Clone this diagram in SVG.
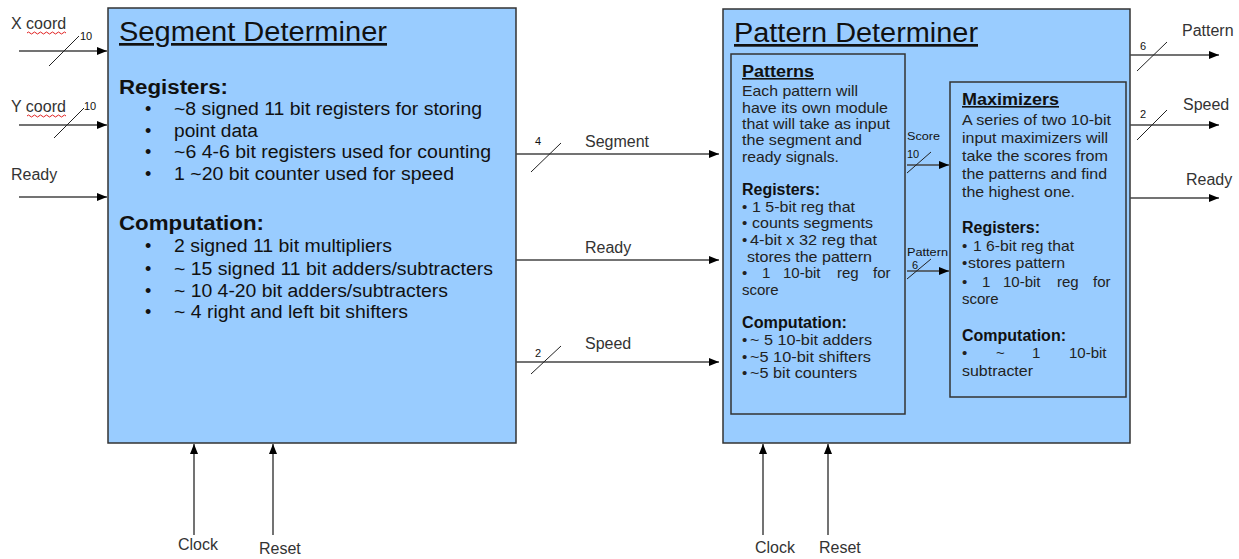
<svg xmlns="http://www.w3.org/2000/svg" width="1239" height="559" viewBox="0 0 1239 559">
<defs>
<marker id="ah" markerWidth="10" markerHeight="8" refX="10" refY="4" orient="auto" markerUnits="userSpaceOnUse">
<path d="M0,0 L10,4 L0,8 Z" fill="#000"/>
</marker>
<style>
.box{fill:#99CCFF;stroke:#333;stroke-width:1.5}
.t{font-family:"Liberation Sans",Arial,sans-serif;fill:#111}
.lbl{font-family:"Liberation Sans",Arial,sans-serif;fill:#333;font-size:16px}
.sm{font-family:"Liberation Sans",Arial,sans-serif;fill:#111;font-size:11px}
.title{font-size:27px;text-decoration:underline}
.h{font-size:20px;font-weight:bold}
.b{font-size:18px}
.ph{font-size:16px;font-weight:bold}
.p{font-size:15px;fill:#222}
.w{stroke:#444;stroke-width:1.5;fill:none}
.arr{stroke:#444;stroke-width:1.5;fill:none;marker-end:url(#ah)}
.sl{stroke:#222;stroke-width:1;fill:none}
.sp{stroke:#e02020;stroke-width:1;fill:none}
</style>
</defs>

<g id="segment-determiner">
<rect class="box" x="108" y="8" width="408" height="435"/>
<text class="t title" x="119" y="41" textLength="268" lengthAdjust="spacingAndGlyphs">Segment Determiner</text>
<text class="t h" x="119" y="94" textLength="109" lengthAdjust="spacingAndGlyphs">Registers:</text>
<g class="t b">
<text x="145" y="115">•</text><text x="174" y="115" textLength="308" lengthAdjust="spacingAndGlyphs">~8 signed 11 bit registers for storing</text>
<text x="145" y="137">•</text><text x="174" y="137" textLength="84" lengthAdjust="spacingAndGlyphs">point data</text>
<text x="145" y="158">•</text><text x="174" y="158" textLength="317" lengthAdjust="spacingAndGlyphs">~6 4-6 bit registers used for counting</text>
<text x="145" y="180">•</text><text x="174" y="180" textLength="280" lengthAdjust="spacingAndGlyphs">1 ~20 bit counter used for speed</text>
</g>
<text class="t h" x="119" y="230" textLength="145" lengthAdjust="spacingAndGlyphs">Computation:</text>
<g class="t b">
<text x="145" y="252">•</text><text x="174" y="252" textLength="218" lengthAdjust="spacingAndGlyphs">2 signed 11 bit multipliers</text>
<text x="145" y="275">•</text><text x="174" y="275" textLength="319" lengthAdjust="spacingAndGlyphs">~ 15 signed 11 bit adders/subtracters</text>
<text x="145" y="297">•</text><text x="174" y="297" textLength="274" lengthAdjust="spacingAndGlyphs">~ 10 4-20 bit adders/subtracters</text>
<text x="145" y="318">•</text><text x="174" y="318" textLength="234" lengthAdjust="spacingAndGlyphs">~ 4 right and left bit shifters</text>
</g>
</g>

<g id="pattern-determiner">
<rect class="box" x="723" y="9" width="407" height="434"/>
<text class="t title" x="734" y="42" textLength="244" lengthAdjust="spacingAndGlyphs">Pattern Determiner</text>
</g>

<g id="patterns">
<rect class="box" x="731" y="54" width="174" height="360"/>
<text class="t ph" x="742" y="77" text-decoration="underline" textLength="72" lengthAdjust="spacingAndGlyphs">Patterns</text>
<g class="t p">
<text x="742" y="96" textLength="116" lengthAdjust="spacingAndGlyphs">Each pattern will</text>
<text x="742" y="113" textLength="146" lengthAdjust="spacingAndGlyphs">have its own module</text>
<text x="742" y="129" textLength="148" lengthAdjust="spacingAndGlyphs">that will take as input</text>
<text x="742" y="145" textLength="120" lengthAdjust="spacingAndGlyphs">the segment and</text>
<text x="742" y="162" textLength="97" lengthAdjust="spacingAndGlyphs">ready signals.</text>
</g>
<text class="t ph" x="742" y="195" textLength="78" lengthAdjust="spacingAndGlyphs">Registers:</text>
<g class="t p">
<text x="742" y="212">•</text><text x="752" y="212" textLength="103" lengthAdjust="spacingAndGlyphs">1 5-bit reg that</text>
<text x="742" y="228">•</text><text x="752" y="228" textLength="121" lengthAdjust="spacingAndGlyphs">counts segments</text>
<text x="742" y="245">•</text><text x="750" y="245" textLength="127" lengthAdjust="spacingAndGlyphs">4-bit x 32 reg that</text>
<text x="747" y="262" textLength="125" lengthAdjust="spacingAndGlyphs">stores the pattern</text>
<text x="742" y="278">•</text><text x="762" y="278">1</text><text x="783" y="278">10-bit</text><text x="837" y="278">reg</text><text x="873" y="278">for</text>
<text x="742" y="295">score</text>
</g>
<text class="t ph" x="742" y="328" textLength="105" lengthAdjust="spacingAndGlyphs">Computation:</text>
<g class="t p">
<text x="742" y="345">•</text><text x="750" y="345" textLength="122" lengthAdjust="spacingAndGlyphs">~ 5 10-bit adders</text>
<text x="742" y="362">•</text><text x="750" y="362" textLength="121" lengthAdjust="spacingAndGlyphs">~5 10-bit shifters</text>
<text x="742" y="378">•</text><text x="750" y="378" textLength="107" lengthAdjust="spacingAndGlyphs">~5 bit counters</text>
</g>
</g>

<g id="maximizers">
<rect class="box" x="950" y="82" width="176" height="315"/>
<text class="t ph" x="962" y="105" text-decoration="underline" textLength="97" lengthAdjust="spacingAndGlyphs">Maximizers</text>
<g class="t p">
<text x="962" y="125" textLength="149" lengthAdjust="spacingAndGlyphs">A series of two 10-bit</text>
<text x="962" y="143" textLength="146" lengthAdjust="spacingAndGlyphs">input maximizers will</text>
<text x="962" y="161" textLength="146" lengthAdjust="spacingAndGlyphs">take the scores from</text>
<text x="962" y="179" textLength="145" lengthAdjust="spacingAndGlyphs">the patterns and find</text>
<text x="962" y="197" textLength="113" lengthAdjust="spacingAndGlyphs">the highest one.</text>
</g>
<text class="t ph" x="962" y="233" textLength="78" lengthAdjust="spacingAndGlyphs">Registers:</text>
<g class="t p">
<text x="962" y="251">•</text><text x="973" y="251" textLength="101" lengthAdjust="spacingAndGlyphs">1 6-bit reg that</text>
<text x="962" y="268">•</text><text x="968" y="268" textLength="97" lengthAdjust="spacingAndGlyphs">stores pattern</text>
<text x="962" y="287">•</text><text x="982" y="287">1</text><text x="1003" y="287">10-bit</text><text x="1057" y="287">reg</text><text x="1093" y="287">for</text>
<text x="962" y="304">score</text>
</g>
<text class="t ph" x="962" y="341" textLength="104" lengthAdjust="spacingAndGlyphs">Computation:</text>
<g class="t p">
<text x="962" y="358">•</text><text x="996" y="358">~</text><text x="1032" y="358">1</text><text x="1069" y="358">10-bit</text>
<text x="962" y="376" textLength="71" lengthAdjust="spacingAndGlyphs">subtracter</text>
</g>
</g>

<g id="connectors">
<!-- left inputs -->
<line class="arr" x1="19" y1="51" x2="107" y2="51"/>
<line class="sl" x1="49" y1="66" x2="79" y2="36"/>
<line class="arr" x1="19" y1="125" x2="107" y2="125"/>
<line class="sl" x1="54" y1="138" x2="84" y2="108"/>
<line class="arr" x1="19" y1="197" x2="107" y2="197"/>
<!-- middle -->
<line class="arr" x1="516" y1="154" x2="719" y2="154"/>
<line class="sl" x1="531" y1="172" x2="561" y2="143"/>
<line class="arr" x1="516" y1="260" x2="719" y2="260"/>
<line class="arr" x1="516" y1="362" x2="719" y2="362"/>
<line class="sl" x1="531" y1="374" x2="561" y2="346"/>
<!-- inner -->
<line class="arr" x1="907" y1="165" x2="949" y2="165"/>
<line class="sl" x1="907" y1="173" x2="931" y2="152"/>
<line class="arr" x1="907" y1="271" x2="949" y2="271"/>
<line class="sl" x1="907" y1="279" x2="931" y2="259"/>
<!-- right outputs -->
<line class="arr" x1="1130" y1="55" x2="1219" y2="55"/>
<line class="sl" x1="1137" y1="71" x2="1167" y2="42"/>
<line class="arr" x1="1130" y1="125" x2="1219" y2="125"/>
<line class="sl" x1="1137" y1="140" x2="1167" y2="110"/>
<line class="arr" x1="1130" y1="198" x2="1219" y2="198"/>
<!-- bottom -->
<line class="arr" x1="194" y1="535" x2="194" y2="444"/>
<line class="arr" x1="273" y1="535" x2="273" y2="444"/>
<line class="arr" x1="763" y1="535" x2="763" y2="444"/>
<line class="arr" x1="828" y1="535" x2="828" y2="444"/>
</g>

<g id="labels">
<text class="lbl" x="11" y="29">X coord</text>
<path class="sp" d="M27,33 q1.5,-2 3,0 t3,0 t3,0 t3,0 t3,0 t3,0 t3,0 t3,0 t3,0 t3,0 t3,0 t3,0 t3,0"/>
<text class="sm" x="80" y="40">10</text>
<text class="lbl" x="11" y="112">Y coord</text>
<path class="sp" d="M27,116 q1.5,-2 3,0 t3,0 t3,0 t3,0 t3,0 t3,0 t3,0 t3,0 t3,0 t3,0 t3,0 t3,0 t3,0"/>
<text class="sm" x="84" y="110">10</text>
<text class="lbl" x="11" y="180">Ready</text>
<text class="sm" x="535" y="145">4</text>
<text class="lbl" x="585" y="147">Segment</text>
<text class="lbl" x="585" y="253">Ready</text>
<text class="sm" x="535" y="357">2</text>
<text class="lbl" x="585" y="349">Speed</text>
<text class="sm" x="907" y="140" textLength="33" lengthAdjust="spacingAndGlyphs">Score</text>
<text class="sm" x="907" y="158">10</text>
<text class="sm" x="907" y="256" textLength="41" lengthAdjust="spacingAndGlyphs">Pattern</text>
<text class="sm" x="912" y="269">6</text>
<text class="sm" x="1140" y="50">6</text>
<text class="lbl" x="1182" y="36">Pattern</text>
<text class="sm" x="1140" y="118">2</text>
<text class="lbl" x="1183" y="110">Speed</text>
<text class="lbl" x="1186" y="185">Ready</text>
<text class="lbl" x="178" y="550">Clock</text>
<text class="lbl" x="259" y="554">Reset</text>
<text class="lbl" x="755" y="553">Clock</text>
<text class="lbl" x="819" y="553">Reset</text>
</g>
</svg>
